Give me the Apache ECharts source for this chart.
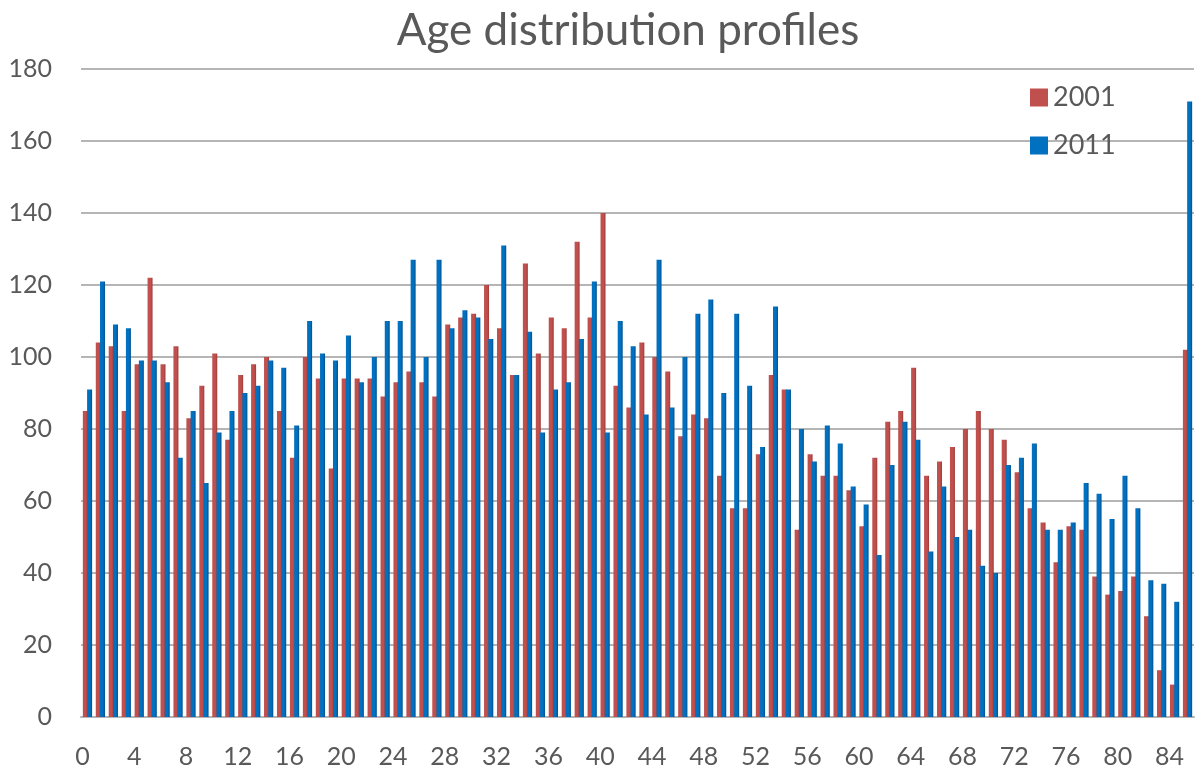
<!DOCTYPE html>
<html>
<head>
<meta charset="utf-8">
<title>Age distribution profiles</title>
<script src="https://cdn.jsdelivr.net/npm/echarts@6/dist/echarts.min.js"></script>
<style>
  html, body { margin: 0; padding: 0; background: #fff; }
  #chart { width: 1199px; height: 771px; }
</style>
</head>
<body>
<div id="chart"></div>
<script>
// ages 0..85
const ages = Array.from({ length: 86 }, (_, i) => String(i))

const values2001 = [
  85, 104, 103, 85, 98, 122, 98, 103, 83, 92,
  101, 77, 95, 98, 100, 85, 72, 100, 94, 69,
  94, 94, 94, 89, 93, 96, 93, 89, 109, 111,
  112, 120, 108, 95, 126, 101, 111, 108, 132, 111,
  140, 92, 86, 104, 100, 96, 78, 84, 83, 67,
  58, 58, 73, 95, 91, 52, 73, 67, 67, 63,
  53, 72, 82, 85, 97, 67, 71, 75, 80, 85,
  80, 77, 68, 58, 54, 43, 53, 52, 39, 34,
  35, 39, 28, 13, 9, 102
]

const values2011 = [
  91, 121, 109, 108, 99, 99, 93, 72, 85, 65,
  79, 85, 90, 92, 99, 97, 81, 110, 101, 99,
  106, 93, 100, 110, 110, 127, 100, 127, 108, 113,
  111, 105, 131, 95, 107, 79, 91, 93, 105, 121,
  79, 110, 103, 84, 127, 86, 100, 112, 116, 90,
  112, 92, 75, 114, 91, 80, 71, 81, 76, 64,
  59, 45, 70, 82, 77, 46, 64, 50, 52, 42,
  40, 70, 72, 76, 52, 52, 54, 65, 62, 55,
  67, 58, 38, 37, 32, 171
]

const textColor = '#595959'
const gridColor = '#B5B5B5'
const red = '#C0504D'
const blue = '#0070C0'

const barFill = (light, dark) =>
  new echarts.graphic.LinearGradient(0, 0, 1, 0, [
    { offset: 0, color: light },
    { offset: 0.6, color: light },
    { offset: 1, color: dark }
  ])

const chart = echarts.init(document.getElementById('chart'))

chart.setOption({
  animation: false,
  title: {
    text: 'Age distribution profiles',
    left: 623,
    textAlign: 'center',
    top: 4,
    textStyle: {
      fontFamily: 'Lato',
      fontWeight: 'normal',
      fontSize: 44,
      color: textColor
    }
  },
  legend: {
    orient: 'vertical',
    left: 1025,
    top: 79,
    itemWidth: 18,
    itemHeight: 18,
    itemGap: 21,
    icon: 'rect',
    textStyle: { fontFamily: 'Lato', fontSize: 27, color: textColor },
    data: [
      { name: '2001', itemStyle: { color: red } },
      { name: '2011', itemStyle: { color: blue } }
    ]
  },
  grid: { left: 81, right: 5, top: 69, bottom: 54 },
  xAxis: {
    type: 'category',
    data: ages,
    axisLine: { lineStyle: { color: gridColor, width: 2 } },
    axisTick: { show: false },
    axisLabel: {
      interval: 3,
      margin: 27,
      padding: [0, 10, 0, 0],
      fontFamily: 'Lato',
      fontSize: 25,
      color: textColor
    }
  },
  yAxis: {
    type: 'value',
    min: 0,
    max: 180,
    interval: 20,
    axisLine: { show: false },
    axisTick: { show: false },
    axisLabel: {
      margin: 29,
      fontFamily: 'Lato',
      fontSize: 25,
      color: textColor
    },
    splitLine: { lineStyle: { color: gridColor, width: 2 } }
  },
  series: [
    {
      name: '2001',
      type: 'bar',
      data: values2001,
      barWidth: 5,
      barGap: '-15%',
      itemStyle: { color: barFill(red, '#9E3B38') }
    },
    {
      name: '2011',
      type: 'bar',
      data: values2011,
      barWidth: 5,
      itemStyle: { color: barFill(blue, '#00508C') }
    }
  ]
})
</script>
</body>
</html>
